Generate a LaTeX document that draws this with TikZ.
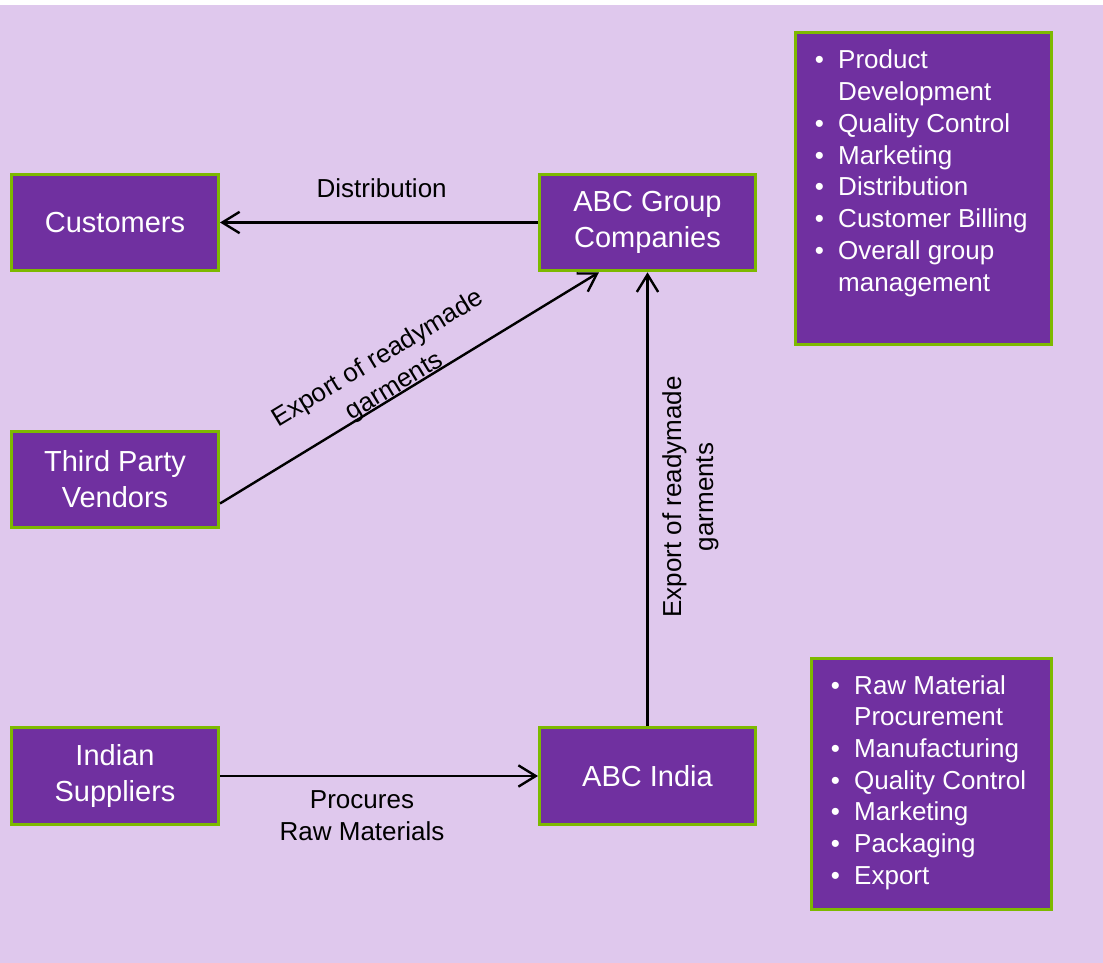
\documentclass[tikz,border=0pt]{standalone}
\usepackage{fontspec}
\setmainfont{Liberation Sans}
\usetikzlibrary{arrows.meta}

\definecolor{bglav}{RGB}{223,200,237}
\definecolor{boxpurple}{RGB}{112,48,160}
\definecolor{boxgreen}{RGB}{125,185,0}

% bullet with hanging indent for the activity lists
\newcommand{\lbul}{\makebox[17.6pt][l]{\textbullet}}
\newcommand{\lind}{\hspace*{17.6pt}}

\begin{document}
\begin{tikzpicture}[x=0.75pt, y=-0.75pt,
  box/.style={draw=boxgreen, line width=2.25pt, fill=boxpurple, text=white,
    font=\fontsize{21.75}{27}\selectfont, align=center, inner sep=0pt,
    minimum width=155.25pt, minimum height=72.5pt},
  widebox/.style={box, minimum width=162pt},
  listbox/.style={draw=boxgreen, line width=2.25pt, fill=boxpurple, inner sep=0pt},
  listtext/.style={text=white, inner sep=0pt, anchor=base west,
    font=\fontsize{19.5}{23.8}\selectfont},
  lbl/.style={text=black, inner sep=0pt, font=\fontsize{19.5}{24}\selectfont},
  arr/.style={draw=black, line width=1.8pt, -{Straight Barb[length=13pt,width=16pt]}}
]
% page background
\fill[white] (0,0) rectangle (1103,963);
\fill[bglav] (0,5) rectangle (1103,963);
\useasboundingbox (0,0) rectangle (1103,963);

% entities
\node[box] (cust) at (115,222.5) {Customers};
\node[box] (tpv) at (115,479.5) {Third Party\\Vendors};
\node[box] (ins) at (115,776) {Indian\\Suppliers};
\node[widebox] (abcg) at (647.5,222.5) {ABC Group\\Companies};
\node[widebox] (abci) at (647.5,776) {ABC India};

% activity lists
\node[listbox, minimum width=192pt, minimum height=234pt] (grpbox) at (923.5,188.5) {};
\node[listtext] (grplist) at (814.5,69) {\parbox[t]{180pt}{\raggedright
  \lbul Product\\
  \lind Development\\
  \lbul Quality Control\\
  \lbul Marketing\\
  \lbul Distribution\\
  \lbul Customer Billing\\
  \lbul Overall group\\
  \lind management}};

\node[listbox, minimum width=180pt, minimum height=188.25pt] (indbox) at (931.5,784) {};
\node[listtext] (indlist) at (830.5,694) {\parbox[t]{180pt}{\raggedright
  \lbul Raw Material\\
  \lind Procurement\\
  \lbul Manufacturing\\
  \lbul Quality Control\\
  \lbul Marketing\\
  \lbul Packaging\\
  \lbul Export}};

% flows
\draw[arr] (abcg.west) -- (cust.east)
  node[lbl, midway, anchor=base, xshift=2pt, yshift=19pt] (distlbl) {Distribution};
\draw[arr] (ins.east) -- (abci.west)
  node[lbl, midway, anchor=base, xshift=-12.75pt, yshift=-24pt] (proclbl)
  {\begin{tabular}[t]{@{}c@{}}Procures\\Raw Materials\end{tabular}};
\draw[arr] ([yshift=-18pt]tpv.east) -- ([xshift=-36.4pt]abcg.south);
\draw[arr] (abci.north) -- (abcg.south);

\node[lbl, align=center, rotate=31.25] (explbla) at (386.5,373) {Export of readymade\\garments};
\node[lbl, align=center, rotate=90] (explblb) at (690.5,497) {Export of readymade\\garments};
\end{tikzpicture}
\end{document}
